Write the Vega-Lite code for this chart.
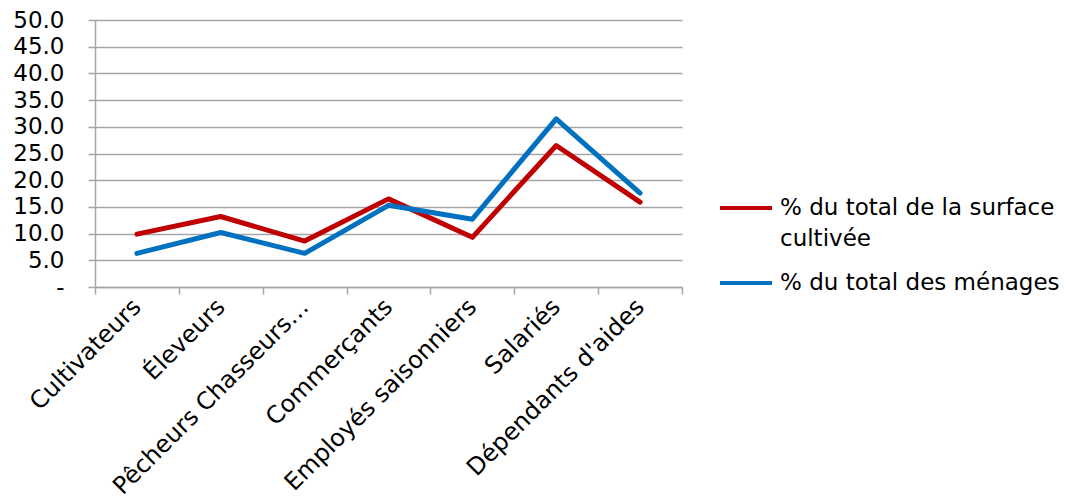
{
  "$schema": "https://vega.github.io/schema/vega-lite/v6.json",
  "autosize": "none",
  "width": 587,
  "height": 267,
  "padding": {"left": 95, "top": 20, "right": 386, "bottom": 214},
  "background": "white",
  "config": {
    "font": "DejaVu Sans",
    "view": {"stroke": null},
    "style": {"guide-label": {"lineHeight": 31}}
  },
  "data": {
    "values": [
      {"cat": "Cultivateurs", "series": "% du total de la surface cultivée", "value": 9.9},
      {"cat": "Éleveurs", "series": "% du total de la surface cultivée", "value": 13.2},
      {"cat": "Pêcheurs Chasseurs…", "series": "% du total de la surface cultivée", "value": 8.6},
      {"cat": "Commerçants", "series": "% du total de la surface cultivée", "value": 16.5},
      {"cat": "Employés saisonniers", "series": "% du total de la surface cultivée", "value": 9.3},
      {"cat": "Salariés", "series": "% du total de la surface cultivée", "value": 26.5},
      {"cat": "Dépendants d'aides", "series": "% du total de la surface cultivée", "value": 15.9},
      {"cat": "Cultivateurs", "series": "% du total des ménages", "value": 6.3},
      {"cat": "Éleveurs", "series": "% du total des ménages", "value": 10.2},
      {"cat": "Pêcheurs Chasseurs…", "series": "% du total des ménages", "value": 6.3},
      {"cat": "Commerçants", "series": "% du total des ménages", "value": 15.3},
      {"cat": "Employés saisonniers", "series": "% du total des ménages", "value": 12.7},
      {"cat": "Salariés", "series": "% du total des ménages", "value": 31.5},
      {"cat": "Dépendants d'aides", "series": "% du total des ménages", "value": 17.6}
    ]
  },
  "mark": {"type": "line", "strokeWidth": 5, "strokeCap": "round", "strokeJoin": "round"},
  "encoding": {
    "x": {
      "field": "cat",
      "type": "nominal",
      "sort": ["Cultivateurs", "Éleveurs", "Pêcheurs Chasseurs…", "Commerçants", "Employés saisonniers", "Salariés", "Dépendants d'aides"],
      "scale": {"type": "band", "paddingInner": 0, "paddingOuter": 0},
      "axis": {
        "title": null,
        "labelAngle": -45,
        "labelAlign": "right",
        "labelBaseline": "middle",
        "labelFontSize": 24,
        "labelColor": "#000000",
        "labelPadding": 9,
        "labelLimit": 400,
        "tickBand": "extent",
        "tickSize": 7,
        "tickColor": "#a6a6a6",
        "tickWidth": 1.5,
        "domainColor": "#a6a6a6",
        "domainWidth": 1.5,
        "grid": false
      }
    },
    "y": {
      "field": "value",
      "type": "quantitative",
      "scale": {"domain": [0, 50], "nice": false},
      "axis": {
        "title": null,
        "values": [0, 5, 10, 15, 20, 25, 30, 35, 40, 45, 50],
        "labelExpr": "datum.value == 0 ? '-' : format(datum.value, '.1f')",
        "labelFontSize": 23,
        "labelColor": "#000000",
        "labelPadding": 24,
        "tickSize": 7,
        "tickColor": "#a6a6a6",
        "tickWidth": 1.5,
        "domainColor": "#a6a6a6",
        "domainWidth": 1.5,
        "grid": true,
        "gridColor": "#a6a6a6",
        "gridWidth": 1.5
      }
    },
    "color": {
      "field": "series",
      "type": "nominal",
      "scale": {
        "domain": ["% du total de la surface cultivée", "% du total des ménages"],
        "range": ["#C00000", "#0070C0"]
      },
      "legend": {
        "title": null,
        "orient": "none",
        "legendX": 623,
        "legendY": 160,
        "symbolType": "stroke",
        "symbolSize": 2700,
        "symbolStrokeWidth": 4,
        "labelFontSize": 23,
        "labelColor": "#000000",
        "labelLimit": 400,
        "labelOffset": 6,
        "rowPadding": 4,
        "labelExpr": "datum.label == '% du total de la surface cultivée' ? ['% du total de la surface', 'cultivée'] : datum.label"
      }
    }
  }
}
